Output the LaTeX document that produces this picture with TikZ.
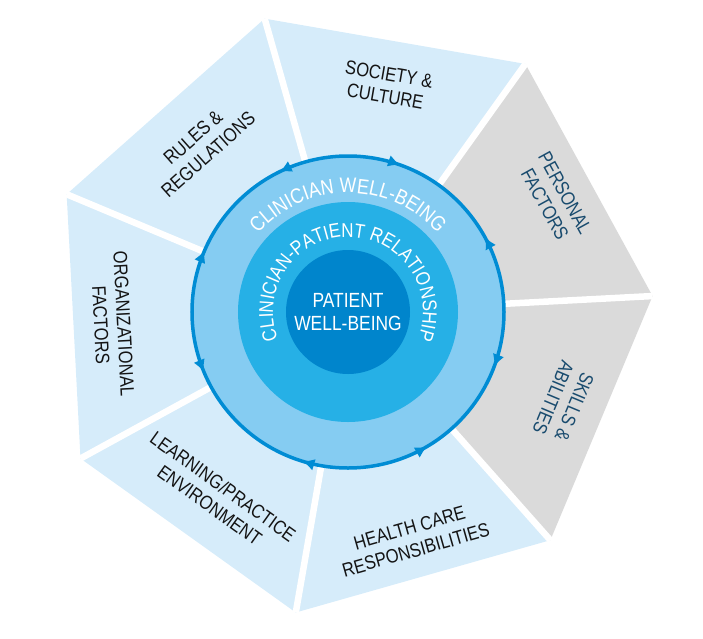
\documentclass[tikz,border=0pt]{standalone}
\usepackage{fontspec}
\setmainfont{Liberation Sans}
\newfontfamily\condensedfont{Liberation Sans}[FakeStretch=0.85]
\usetikzlibrary{
  arrows.meta,
  decorations.markings,
  decorations.text
}
\definecolor{wedgecolor}{RGB}{214, 236, 250}
\definecolor{graycolor}{RGB}{218, 218, 218}
\definecolor{cliniciancolor}{RGB}{133, 204, 242}
\definecolor{ringcolor}{RGB}{0, 140, 212}
\definecolor{relationcolor}{RGB}{38, 176, 230}
\definecolor{patientcolor}{RGB}{0, 133, 204}
\definecolor{labelcolor}{RGB}{20, 20, 20}
\definecolor{graylabelcolor}{RGB}{25, 75, 110}
\tikzset{
lightwedge/.style={
  fill=wedgecolor
},
graywedge/.style={
  fill=graycolor
},
separator/.style={
  draw=white,
  line width=6.5pt
},
wedgelabel/.style={
  align=center,
  font=\condensedfont\fontsize{19.5}{23}\selectfont,
  text=labelcolor
},
graylabel/.style={
  wedgelabel,
  text=graylabelcolor
}
}

\begin{document}
\begin{tikzpicture}[
    x=1pt, y=1pt,
    % Estilos dos circulos
    ringtip/.tip={Latex[length=12pt,width=12pt]},
    clinicianring/.style={
        fill=cliniciancolor,
        draw=ringcolor,
        line width=3.5pt,
        postaction={decorate},
        decoration={markings,
            mark=at position 0.0797 with {\arrow{ringtip}},
            mark=at position 0.1958 with {\arrowreversed{ringtip}},
            mark=at position 0.3222 with {\arrow{ringtip}},
            mark=at position 0.4356 with {\arrowreversed{ringtip}},
            mark=at position 0.5625 with {\arrow{ringtip}},
            mark=at position 0.7028 with {\arrowreversed{ringtip}},
            mark=at position 0.8347 with {\arrow{ringtip}},
            mark=at position 0.9433 with {\arrowreversed{ringtip}}
        }
    },
    relationdisk/.style={fill=relationcolor},
    patientdisk/.style={fill=patientcolor},
    centerlabel/.style={align=center, text=white,
        font=\condensedfont\fontsize{20.5}{23}\selectfont},
]
\useasboundingbox (-348,-326) rectangle (355,312);

% ============================================================================
% HEPTAGONO
% ============================================================================
\coordinate (center) at (0,0);
\coordinate (v1) at (3:305);
\coordinate (v2) at (54.43:305);
\coordinate (v3) at (105.86:305);
\coordinate (v4) at (157.29:305);
\coordinate (v5) at (208.71:305);
\coordinate (v6) at (260.14:305);
\coordinate (v7) at (311.57:305);

\fill[graywedge] (center) -- (v1) -- (v2) -- cycle;
\fill[lightwedge] (center) -- (v2) -- (v3) -- cycle;
\fill[lightwedge] (center) -- (v3) -- (v4) -- cycle;
\fill[lightwedge] (center) -- (v4) -- (v5) -- cycle;
\fill[lightwedge] (center) -- (v5) -- (v6) -- cycle;
\fill[lightwedge] (center) -- (v6) -- (v7) -- cycle;
\fill[graywedge] (center) -- (v7) -- (v1) -- cycle;

\draw[separator] (center) -- (v1);
\draw[separator] (center) -- (v2);
\draw[separator] (center) -- (v3);
\draw[separator] (center) -- (v4);
\draw[separator] (center) -- (v5);
\draw[separator] (center) -- (v6);
\draw[separator] (center) -- (v7);

\node[graylabel, rotate=-61.3] (personal) at (28.7:236) {PERSONAL\\FACTORS};
\node[wedgelabel, rotate=-9.8] (society) at (80.2:230) {SOCIETY \&\\CULTURE};
\node[wedgelabel, rotate=41.6] (rules) at (131.6:222) {RULES \&\\REGULATIONS};
\node[wedgelabel, rotate=-87] (organizational) at (183:236) {ORGANIZATIONAL\\FACTORS};
\node[wedgelabel, rotate=-35.6] (learning) at (234.4:226) {LEARNING/PRACTICE\\ENVIRONMENT};
\node[wedgelabel, rotate=15.9] (health) at (285.9:236) {HEALTH CARE\\RESPONSIBILITIES};
\node[graylabel, rotate=-112.7] (skills) at (337.3:234) {SKILLS \&\\ABILITIES};

% ============================================================================
% CIRCULOS
% ============================================================================
\draw[clinicianring] (center) circle[radius=156];
\fill[relationdisk] (center) circle[radius=110];
\fill[patientdisk] (center) circle[radius=62];

\path[decorate, decoration={text along path, text align=center, text color=white,
    text={|\condensedfont\fontsize{21}{24}\selectfont|CLINICIAN WELL-BEING}}]
    (center) ++(170:119) arc[start angle=170, end angle=10, radius=119];
\path[decorate, decoration={text along path, text align=center, text color=white,
    text={|\condensedfont\fontsize{20}{23}\selectfont|CLINICIAN-PATIENT RELATIONSHIP}}]
    (center) ++(220:75) arc[start angle=220, end angle=-40, radius=75];

\node[centerlabel] (patient) at (center) {PATIENT\\WELL-BEING};

\end{tikzpicture}
\end{document}
